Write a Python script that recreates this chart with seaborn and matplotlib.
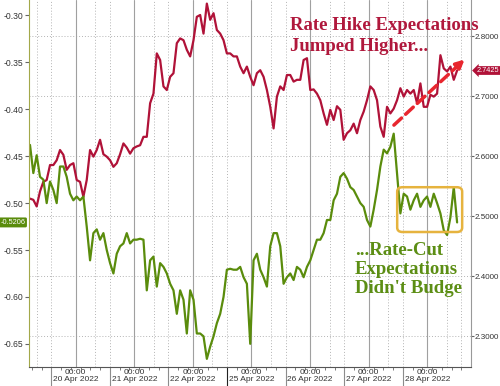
import numpy as np
import matplotlib
matplotlib.use("Agg")
import matplotlib.pyplot as plt
import matplotlib.transforms as mtransforms
from matplotlib.patches import FancyBboxPatch
import seaborn as sns

# trading sessions shown on the axis (weekend skipped)
day_labels = ["20 Apr 2022", "21 Apr 2022", "22 Apr 2022", "25 Apr 2022",
              "26 Apr 2022", "27 Apr 2022", "28 Apr 2022"]

# samples every 82 trading minutes, first one at 19 Apr ~05:00 (days from 20 Apr 00:00)
sample_minutes = 82
first_sample = -0.78

# rate hike expectations (right axis)
red_vals = [
    2.529, 2.527, 2.516, 2.541, 2.557, 2.560, 2.585, 2.585, 2.593, 2.610,
    2.602, 2.577, 2.585, 2.588, 2.560, 2.557, 2.532, 2.560, 2.610, 2.599,
    2.610, 2.627, 2.603, 2.599, 2.593, 2.582, 2.588, 2.603, 2.621, 2.614,
    2.604, 2.613, 2.616, 2.618, 2.632, 2.632, 2.688, 2.704,
    2.771, 2.760, 2.716, 2.710, 2.732, 2.738, 2.788, 2.796, 2.793, 2.777,
    2.766, 2.793, 2.832, 2.835, 2.804, 2.854, 2.827, 2.838, 2.810, 2.804,
    2.793, 2.771, 2.771, 2.766, 2.766, 2.749, 2.738, 2.749, 2.732, 2.718,
    2.738, 2.743, 2.732, 2.710, 2.682, 2.646, 2.699, 2.716,
    2.710, 2.735, 2.735, 2.724, 2.727, 2.727, 2.760, 2.763, 2.710, 2.711,
    2.704, 2.693, 2.671, 2.652, 2.677, 2.660, 2.683, 2.677, 2.627, 2.638,
    2.643, 2.654, 2.638, 2.660, 2.674, 2.693, 2.716, 2.710, 2.693, 2.649,
    2.632, 2.682, 2.671, 2.679, 2.693, 2.713, 2.699,
    2.710, 2.704, 2.710, 2.688, 2.721, 2.682, 2.682, 2.702, 2.699, 2.704,
    2.768, 2.746, 2.741, 2.749, 2.727, 2.7425,
]

# rate cut expectations (left axis)
green_vals = [
    -0.438, -0.468, -0.449, -0.472, -0.475, -0.500, -0.477, -0.486, -0.500, -0.461,
    -0.461, -0.472, -0.490, -0.497, -0.493, -0.497, -0.493, -0.525, -0.561, -0.532,
    -0.528, -0.539, -0.532, -0.550, -0.564, -0.575, -0.554, -0.546, -0.543, -0.532,
    -0.543, -0.539, -0.539, -0.538, -0.539, -0.593, -0.561, -0.557,
    -0.589, -0.564, -0.568, -0.575, -0.586, -0.593, -0.618, -0.593, -0.603, -0.639,
    -0.593, -0.603, -0.639, -0.639, -0.642, -0.666, -0.653, -0.642, -0.628, -0.618,
    -0.600, -0.571, -0.570, -0.571, -0.571, -0.568, -0.579, -0.586, -0.650, -0.561,
    -0.554, -0.571, -0.579, -0.589, -0.546, -0.532, -0.532, -0.546,
    -0.586, -0.579, -0.575, -0.582, -0.568, -0.571, -0.579, -0.568, -0.561, -0.550,
    -0.539, -0.539, -0.532, -0.518, -0.518, -0.497, -0.490, -0.472, -0.468, -0.474,
    -0.483, -0.486, -0.493, -0.500, -0.504, -0.518, -0.525, -0.507, -0.486, -0.461,
    -0.443, -0.447, -0.440, -0.426, -0.468, -0.511, -0.490,
    -0.493, -0.507, -0.497, -0.490, -0.504, -0.497, -0.493, -0.504, -0.490, -0.500,
    -0.511, -0.529, -0.534, -0.515, -0.483, -0.5206,
]

left_ticks = [-0.30, -0.35, -0.40, -0.45, -0.50, -0.55, -0.60, -0.65]
right_ticks = [2.3, 2.4, 2.5, 2.6, 2.7, 2.8]

hike_lines = ["Rate Hike Expectations", "Jumped Higher..."]
cut_text = "...Rate-Cut\nExpectations\nDidn't Budge"

RED = "#B01238"
GREEN = "#5A8C0C"
TEXT_RED = "#B0183C"
TEXT_GREEN = "#5C8E14"

sns.set_style("white")
plt.rcParams["font.family"] = ["Liberation Sans", "DejaVu Sans"]

t = first_sample + np.arange(len(red_vals)) * sample_minutes / 1440

fig = plt.figure(figsize=(5, 3.86), dpi=100)
ax = fig.add_axes([0.058, 0.049, 0.884, 0.951])
ax2 = ax.twinx()
ax.set_zorder(ax2.get_zorder() + 1)
ax.patch.set_visible(False)

# grid: dotted horizontals from right scale, solid at midnight, dotted at 08:00 / 14:00
for v in right_ticks:
    ax2.axhline(v, color="#b4b4b4", lw=0.7, ls=(0, (1, 2)), zorder=0)
for d in range(7):
    ax2.axvline(d, color="#a0a0a0", lw=0.8, zorder=0)
for d in range(-1, 7):
    for h in (8, 14):
        ax2.axvline(d + h / 24, color="#b4b4b4", lw=0.7, ls=(0, (1, 2)), zorder=0)

sns.lineplot(x=t, y=red_vals, ax=ax2, color=RED, lw=1.6, estimator=None)
sns.lineplot(x=t, y=green_vals, ax=ax, color=GREEN, lw=1.6, estimator=None)

ax.set_xlim(-0.797, 6.746)
ax.set_ylim(-0.6748, -0.2835)
ax2.set_ylim(2.2483, 2.86)

ax.set_xticks(range(7))
ax.set_xticklabels(["00:00\n" + d for d in day_labels])
for lbl in ax.get_xticklabels():
    lbl.set_linespacing(1.0)
ax.set_xticks(np.arange(-0.75, 6.75, 1 / 6), minor=True)
ax.tick_params(axis="x", which="major", length=0, labelsize=6, labelcolor="#333333", pad=1.5)
ax.tick_params(axis="x", which="minor", length=2.5, color="#666666", direction="out", bottom=True)

ax.set_yticks(left_ticks)
ax.set_yticklabels([f"{v:.2f}" for v in left_ticks])
ax.tick_params(axis="y", labelsize=6.2, labelcolor="#333333", length=3, color="#666666", pad=1, left=True)
ax2.set_yticks(right_ticks)
ax2.set_yticklabels([f"{v:.4f}" for v in right_ticks])
ax2.tick_params(axis="y", labelsize=5.8, labelcolor="#333333", length=2, color="#666666", pad=0.6, right=True)

ax.set_xlabel("")
ax.set_ylabel("")
ax2.set_ylabel("")

for s in ("top", "right"):
    ax.spines[s].set_visible(False)
for s in ("top", "left", "bottom"):
    ax2.spines[s].set_visible(False)
ax.spines["left"].set_color("#a3a84a")
ax.spines["bottom"].set_color("#555555")
ax2.spines["right"].set_color("#999999")
for sp in (ax.spines["left"], ax.spines["bottom"], ax2.spines["right"]):
    sp.set_linewidth(0.8)

# session separators under the axis
sep = mtransforms.blended_transform_factory(ax.transData, ax.transAxes)
for d in range(7):
    x = d - 10 / 24
    ax.plot([x, x], [0, -0.06], transform=sep, clip_on=False,
            color="#222222" if d == 3 else "#8c8c8c", lw=0.8)

# last value tags
tl = mtransforms.blended_transform_factory(ax.transAxes, ax.transData)
ax.text(-0.008, green_vals[-1], f"{green_vals[-1]:.4f}", transform=tl, ha="right", va="center",
        color="white", fontsize=5.3,
        bbox=dict(boxstyle="round,pad=0.2", fc=GREEN, ec="none"))
tr = mtransforms.blended_transform_factory(ax2.transAxes, ax2.transData)
ax2.text(1.013, red_vals[-1], f"{red_vals[-1]:.4f}", transform=tr, ha="left", va="center",
         color="white", fontsize=5.3,
         bbox=dict(boxstyle="larrow,pad=0.12", fc=RED, ec="none"))

# highlight box and arrow
ax.add_patch(FancyBboxPatch((0.833, 0.368), 0.147, 0.122, transform=ax.transAxes,
                            boxstyle="round,pad=0,rounding_size=0.012", fill=False,
                            ec="#E6B33E", lw=1.8, zorder=5))
ax.annotate("", xy=(0.972, 0.823), xytext=(0.821, 0.654), xycoords="axes fraction",
            arrowprops=dict(arrowstyle="-", color="#E8262E", lw=2.5, ls=(0, (3, 1.6))))
ax.annotate("", xy=(0.99, 0.843), xytext=(0.962, 0.812), xycoords="axes fraction",
            arrowprops=dict(arrowstyle="-|>", color="#E8262E", lw=2.5, mutation_scale=12))

serif = ["Liberation Serif", "DejaVu Serif"]
for i, line in enumerate(hike_lines):
    fig.text(0.58, 0.955 - i * 0.053, line, ha="left", va="top", family=serif, weight="bold",
             fontsize=13.5, color=TEXT_RED)
fig.text(0.71, 0.372, cut_text, ha="left", va="top", family=serif, weight="bold",
         fontsize=13.5, color=TEXT_GREEN, linespacing=1.15)

fig.savefig("out.png", dpi=100)
